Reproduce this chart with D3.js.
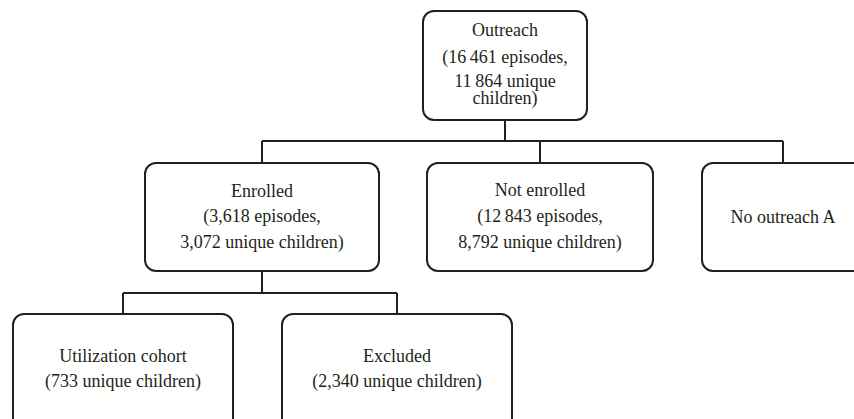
<!DOCTYPE html>
<html lang="en">
<head>
<meta charset="utf-8">
<script src="https://d3js.org/d3.v7.min.js"></script>
<style type="text/css">
body {
  margin: 0;
  background-color: #ffffff;
}
.box {
  fill: #fff;
  stroke: #231f20;
  stroke-width: 2;
}
.link {
  fill: none;
  stroke: #231f20;
  stroke-width: 2;
}
</style>
</head>
<body>
<script type="text/javascript">

// Flowchart content
var nodeIds = ["outreach", "enrolled", "notEnrolled", "noOutreach", "utilization", "excluded"];
var nodeParents = ["", "outreach", "outreach", "outreach", "enrolled", "enrolled"];
var nodeLines = [
  ["Outreach", "(16\u2009461 episodes,", "11\u2009864 unique", "children)"],
  ["Enrolled", "(3,618 episodes,", "3,072 unique children)"],
  ["Not enrolled", "(12\u2009843 episodes,", "8,792 unique children)"],
  ["No outreach A"],
  ["Utilization cohort", "(733 unique children)"],
  ["Excluded", "(2,340 unique children)"]
];

var width = 854;
var height = 419;
var fontStack = "Liberation Serif, Tinos, Times New Roman, DejaVu Serif, serif";

// layout (box centre x, box width, baseline offsets of the text lines)
var layout = {
  outreach:    {x: 505, w: 164, lines: [25, 52, 76, 93]},
  enrolled:    {x: 262, w: 234, lines: [34, 59, 85]},
  notEnrolled: {x: 540, w: 226, lines: [33, 59, 85]},
  noOutreach:  {x: 783, w: 162, lines: [60]},
  utilization: {x: 123, w: 220, lines: [48, 73]},
  excluded:    {x: 397, w: 230, lines: [48, 73]}
};
var levelTop = [11, 163, 314];
var levelHeight = [109, 108, 116];
var connectorY = [141, 293];

var table = nodeIds.map(function(id, i) {
  return {id: id, parent: nodeParents[i], lines: nodeLines[i]};
});
var root = d3.stratify().id(function(d) { return d.id; }).parentId(function(d) { return d.parent || null; })(table);
var nodes = root.descendants();

var svg = d3.select("body")
  .append("svg")
  .attr("width", width)
  .attr("height", height);

// connectors: stem below parent, horizontal bar, stem above each child
var lineGen = d3.line();
nodes.filter(function(n) { return n.children; }).forEach(function(n) {
  var px = layout[n.id].x;
  var yBar = connectorY[n.depth];
  var yBottom = levelTop[n.depth] + levelHeight[n.depth];
  var xs = n.children.map(function(c) { return layout[c.id].x; });
  svg.append("path").attr("class", "link")
    .attr("d", lineGen([[px, yBottom], [px, yBar]]));
  svg.append("path").attr("class", "link")
    .attr("d", lineGen([[d3.min(xs), yBar], [d3.max(xs), yBar]]));
  n.children.forEach(function(c) {
    var cx = layout[c.id].x;
    svg.append("path").attr("class", "link")
      .attr("d", lineGen([[cx, yBar], [cx, levelTop[c.depth]]]));
  });
});

var g = svg.selectAll("g.node")
  .data(nodes)
  .enter()
  .append("g")
  .attr("class", "node")
  .attr("transform", function(d) {
    return "translate(" + (layout[d.id].x - layout[d.id].w / 2) + "," + levelTop[d.depth] + ")";
  });

g.append("rect")
  .attr("class", "box")
  .attr("width", function(d) { return layout[d.id].w; })
  .attr("height", function(d) { return levelHeight[d.depth]; })
  .attr("rx", 11)
  .attr("ry", 11);

g.each(function(d) {
  var sel = d3.select(this);
  var L = layout[d.id];
  d.data.lines.forEach(function(t, i) {
    sel.append("text")
      .attr("x", L.w / 2)
      .attr("y", L.lines[i])
      .attr("text-anchor", "middle")
      .style("font-family", fontStack)
      .style("font-size", "18px")
      .attr("fill", "#231f20")
      .text(t);
  });
});
</script>
</body>
</html>
